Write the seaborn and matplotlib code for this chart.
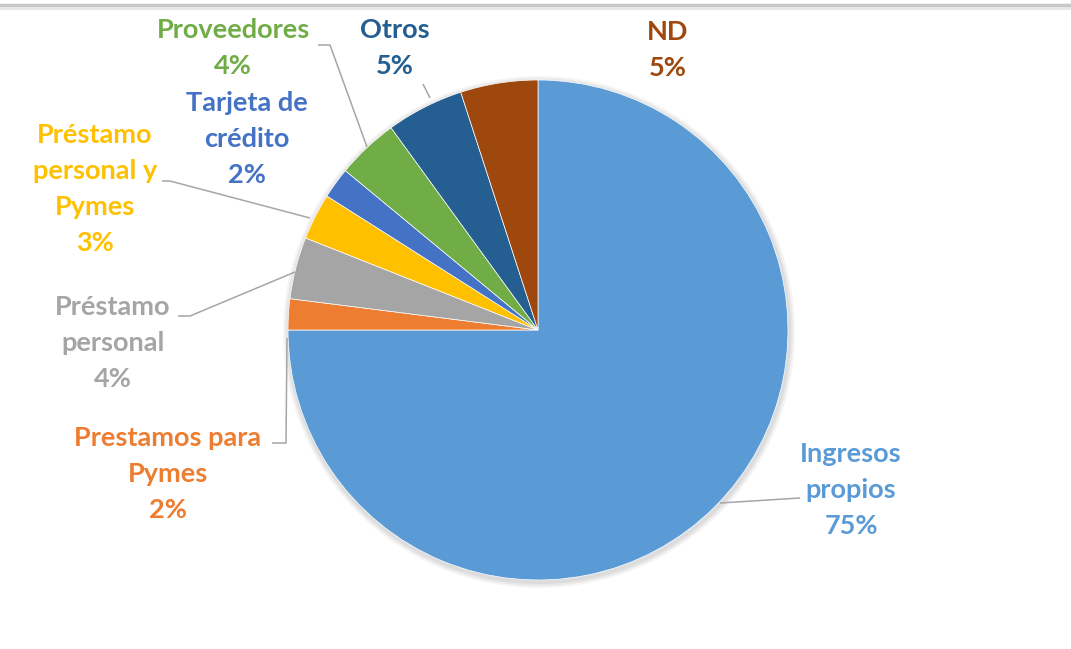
import matplotlib
matplotlib.use("Agg")
import matplotlib.pyplot as plt
import seaborn as sns
from matplotlib.lines import Line2D
from matplotlib.patches import Circle

# ---- data ----
categories = ["Ingresos propios", "Prestamos para Pymes", "Préstamo personal",
              "Préstamo personal y Pymes", "Tarjeta de crédito", "Proveedores",
              "Otros", "ND"]
values = [75, 2, 4, 3, 2, 4, 5, 5]
label_texts = ["Ingresos\npropios\n75%", "Prestamos para\nPymes\n2%",
               "Préstamo\npersonal\n4%", "Préstamo\npersonal y\nPymes\n3%",
               "Tarjeta de\ncrédito\n2%", "Proveedores\n4%", "Otros\n5%", "ND\n5%"]
slice_colors = ["#5B9BD5", "#ED7D31", "#A5A5A5", "#FFC000",
                "#4472C4", "#70AD47", "#255E91", "#9E480E"]

# ---- layout (pixel positions of label centres, figure 1071x649) ----
label_px = [(851, 490), (168, 474), (113, 343), (95, 189),
            (247, 139), (233, 48), (395, 48), (668, 50)]
# leader lines in pixels (None = no line)
leader_px = [
    [(720, 503), (800, 498)],
    [(287, 338), (286, 443), (272, 443)],
    [(295, 272), (190, 316), (178, 316)],
    [(310, 218), (170, 181), (162, 181)],
    None,
    [(367, 147), (330, 45), (318, 45)],
    [(430, 98), (423, 84)],
    None,
]

sns.set_theme(style="white")
plt.rcParams["font.family"] = ["Lato", "DejaVu Sans"]

W, H = 1071, 649
CX, CY, R = 538, 330, 250
fig = plt.figure(figsize=(W / 100, H / 100), dpi=100)
ax = fig.add_axes([0, 0, 1, 1])

def to_u(p):
    return ((p[0] - CX) / R, (CY - p[1]) / R)

# soft shadow
for i, a in enumerate([0.05, 0.05, 0.04]):
    ax.add_patch(Circle((0.004, -0.008), 1.0 + 0.008 * (i + 1), color="#000000",
                        alpha=a, lw=0, zorder=0))

palette = sns.color_palette(slice_colors)
ax.pie(values, colors=palette, startangle=90, counterclock=False,
       radius=1.0, center=(0, 0),
       wedgeprops=dict(linewidth=0.5, edgecolor="white"), frame=True)
ax.set_xlim(-CX / R, (W - CX) / R)
ax.set_ylim(-(H - CY) / R, CY / R)
ax.set_aspect("equal")
ax.axis("off")

for txt, pos, col in zip(label_texts, label_px, slice_colors):
    x, y = to_u(pos)
    ax.text(x, y, txt, ha="center", va="center", color=col,
            fontsize=19.5, fontweight="bold", linespacing=1.6, zorder=5)

for seg in leader_px:
    if seg is None:
        continue
    pts = [to_u(p) for p in seg]
    ax.plot([p[0] for p in pts], [p[1] for p in pts], color="#A6A6A6",
            lw=1.1, zorder=4, solid_capstyle="butt")

# top frame line
fig.add_artist(Line2D([0, 1], [1 - 5 / H, 1 - 5 / H], color="#C8C8C8", lw=2.5))
fig.add_artist(Line2D([0, 1], [1 - 7.5 / H, 1 - 7.5 / H], color="#E6E6E6", lw=2))

fig.savefig("out.png", dpi=100, facecolor="white")
